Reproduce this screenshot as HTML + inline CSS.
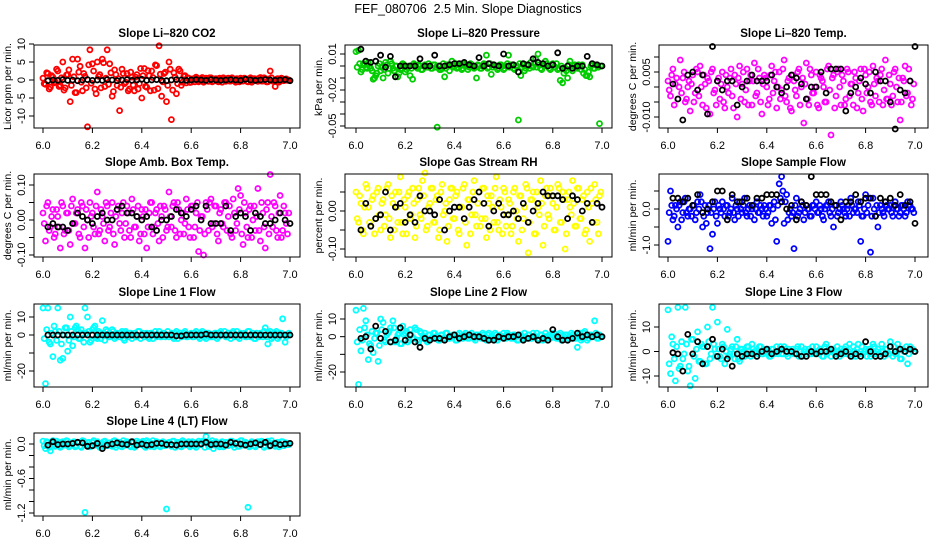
<!DOCTYPE html>
<html><head><meta charset="utf-8">
<style>
html,body{margin:0;padding:0;background:#fff;}
svg{display:block;font-family:"Liberation Sans",Arial,sans-serif;}
</style></head>
<body>
<svg id="chart" width="936" height="540" viewBox="0 0 936 540" xmlns="http://www.w3.org/2000/svg">
<rect x="0" y="0" width="936" height="540" fill="#fff"/>
<text x="468" y="13" text-anchor="middle" font-size="12.5">FEF_080706&#160; 2.5 Min. Slope Diagnostics</text>
</svg>
<script>
// shared x values
const colorX = [6.00,6.01,6.02,6.03,6.04,6.05,6.06,6.07,6.08,6.09,6.10,6.11,6.12,6.13,6.14,6.15,6.16,6.17,6.18,6.19,6.20,6.21,6.22,6.23,6.24,6.25,6.26,6.27,6.28,6.29,6.30,6.31,6.32,6.33,6.34,6.35,6.36,6.37,6.38,6.39,6.40,6.41,6.42,6.43,6.44,6.45,6.46,6.47,6.48,6.49,6.50,6.51,6.52,6.53,6.54,6.55,6.56,6.57,6.58,6.59,6.60,6.61,6.62,6.63,6.64,6.65,6.66,6.67,6.68,6.69,6.70,6.71,6.72,6.73,6.74,6.75,6.76,6.77,6.78,6.79,6.80,6.81,6.82,6.83,6.84,6.85,6.86,6.87,6.88,6.89,6.90,6.91,6.92,6.93,6.94,6.95,6.96,6.97,6.98,6.99];
const colorX2 = [6.005,6.015,6.025,6.035,6.045,6.055,6.065,6.075,6.085,6.095,6.105,6.115,6.125,6.135,6.145,6.155,6.165,6.175,6.185,6.195,6.205,6.215,6.225,6.235,6.245,6.255,6.265,6.275,6.285,6.295,6.305,6.315,6.325,6.335,6.345,6.355,6.365,6.375,6.385,6.395,6.405,6.415,6.425,6.435,6.445,6.455,6.465,6.475,6.485,6.495,6.505,6.515,6.525,6.535,6.545,6.555,6.565,6.575,6.585,6.595,6.605,6.615,6.625,6.635,6.645,6.655,6.665,6.675,6.685,6.695,6.705,6.715,6.725,6.735,6.745,6.755,6.765,6.775,6.785,6.795,6.805,6.815,6.825,6.835,6.845,6.855,6.865,6.875,6.885,6.895,6.905,6.915,6.925,6.935,6.945,6.955,6.965,6.975,6.985,6.995];
const blackX = [6.02,6.04,6.06,6.08,6.10,6.12,6.14,6.16,6.18,6.20,6.22,6.24,6.26,6.28,6.30,6.32,6.34,6.36,6.38,6.40,6.42,6.44,6.46,6.48,6.50,6.52,6.54,6.56,6.58,6.60,6.62,6.64,6.66,6.68,6.70,6.72,6.74,6.76,6.78,6.80,6.82,6.84,6.86,6.88,6.90,6.92,6.94,6.96,6.98,7.00];
const xTicks = [6.0,6.2,6.4,6.6,6.8,7.0];
const xTickLabels = ["6.0","6.2","6.4","6.6","6.8","7.0"];

const co2Y = [0.5,-1.2,1.8,-2.0,0.8,-0.5,2.5,-1.5,5.0,-2.2,1.5,-6.0,5.8,-3.5,5.8,3.8,-3.0,1.0,-13.0,8.4,4.5,-2.5,5.0,1.5,5.8,-1.8,8.4,4.5,-4.5,2.8,-1.5,-8.5,3.0,-1.0,1.8,-2.5,0.8,-3.0,1.5,-1.0,-5.0,3.2,-2.0,1.2,2.5,-2.8,4.0,9.5,-4.5,1.8,-6.0,5.0,-11.0,2.0,-3.8,3.0,-1.5,1.0,-0.8,0.5,-0.6,0.4,0.8,-0.5,0.3,-0.6,0.5,-0.4,0.6,-0.3,0.4,-0.5,0.3,0.6,-0.4,0.5,-0.3,0.4,-0.6,0.2,0.5,-0.3,0.4,-0.5,0.6,-0.2,0.3,-0.4,0.7,-0.3,0.4,-0.5,2.5,-0.3,-1.8,0.4,-0.4,0.3,0.2,-0.1];
const co2Y2 = [-1.0,2.0,-2.5,1.2,-0.8,3.0,-1.8,0.6,-2.8,1.4,2.8,-1.5,0.9,-3.5,2.2,-0.6,1.8,-2.2,4.2,-0.9,2.5,-3.8,1.0,-2.2,4.8,0.5,-1.2,2.0,-3.2,1.5,0.4,-2.0,1.8,-0.6,-3.0,2.2,-1.4,0.8,-2.5,3.2,1.2,-1.8,2.6,-3.0,0.7,4.2,-2.4,1.6,-0.5,2.2,-1.5,3.0,-2.8,0.8,-1.0,2.5,-0.6,1.2,0.6,-0.7,0.3,-0.5,0.5,-0.2,0.7,-0.4,0.2,0.6,-0.5,0.3,-0.3,0.5,-0.6,0.2,0.4,-0.3,0.6,-0.2,0.4,-0.5,0.2,0.5,-0.4,0.3,-0.6,0.4,-0.2,0.5,-0.3,0.6,-0.5,0.3,0.6,-0.4,0.2,-0.6,0.5,-0.2,0.3,0.0];
const co2B = [-0.2,0,-0.1,0.1,-0.1,0,-0.2,0,0.1,-0.1,0,-0.1,0.1,0,-0.2,0,0.1,-0.1,0,0.2,-0.1,0,0.1,-0.1,-0.2,0,0.1,0,-0.1,0,0.1,0,-0.1,0.1,0,-0.1,0,0.1,0,-0.1,0.2,0,-0.1,0,0.1,0,-0.1,0,0.1,-0.2];
const co2Ticks = [10,5,0,-5,-10];
const co2TickLabels = ["10","5","0","-5","-10"];

const presY = [0.012,0.013,-0.005,0.002,-0.001,0.003,-0.002,-0.011,-0.008,0.000,-0.004,-0.010,0.003,-0.006,0.004,-0.002,0.000,-0.009,-0.003,0.002,-0.005,-0.001,-0.008,-0.011,0.001,-0.002,0.000,-0.003,0.001,-0.001,0.000,-0.002,0.001,-0.051,-0.003,-0.002,-0.009,0.001,-0.004,0.004,0.000,-0.002,0.001,-0.003,0.002,0.000,-0.001,0.001,-0.002,-0.010,0.000,-0.002,0.002,0.009,-0.001,-0.007,0.001,0.000,-0.002,0.001,-0.003,0.000,0.009,0.001,-0.002,0.000,-0.045,-0.008,0.001,-0.002,0.000,0.003,-0.001,0.006,0.010,-0.002,0.001,0.004,0.000,-0.003,0.002,-0.001,-0.003,-0.012,-0.014,-0.002,-0.010,0.004,-0.004,0.001,-0.002,0.000,0.001,-0.003,-0.008,-0.009,0.001,-0.002,0.000,-0.048];
const presY2 = [-0.001,0.002,-0.003,0.001,-0.002,0.000,-0.004,-0.010,-0.006,0.002,-0.001,-0.003,0.001,-0.002,0.002,-0.004,0.000,-0.006,-0.002,0.001,-0.003,0.000,-0.002,0.002,-0.001,0.001,-0.003,0.000,-0.001,0.002,-0.002,0.001,-0.001,0.000,-0.003,0.002,-0.002,0.000,0.001,-0.001,0.002,-0.001,0.000,-0.002,0.001,-0.003,0.002,0.000,-0.001,0.001,-0.002,0.000,0.001,-0.002,0.002,-0.001,0.000,-0.003,0.001,0.000,-0.002,0.002,-0.001,0.001,-0.003,0.000,0.002,-0.001,-0.004,0.001,-0.002,0.000,0.002,-0.001,0.001,-0.003,0.000,0.002,-0.002,0.001,-0.001,0.002,-0.002,0.000,-0.006,-0.004,0.001,-0.002,0.000,-0.001,0.001,-0.003,-0.006,-0.008,-0.005,0.000,-0.002,0.001,-0.001,0.000];
const presB = [0.014,0.004,0.003,0.004,0.009,-0.001,0.008,-0.009,0.000,0.000,0.000,0.000,0.006,0.000,0.000,0.009,0.000,0.000,0.001,0.002,0.002,0.003,0.001,0.000,0.007,0.000,0.002,0.001,0.000,0.010,0.000,0.001,-0.005,0.002,0.001,0.006,0.003,0.002,0.000,0.001,0.011,-0.002,0.000,-0.002,0.000,0.000,0.008,0.002,0.001,0.000];
const presTicks = [0.01,0.00,-0.01,-0.02,-0.03,-0.04,-0.05];
const presTickLabels = ["0.01","","","-0.02","","","-0.05"];

const tempY = [0.002,-0.003,0.006,0.001,-0.004,0.009,0.003,-0.005,0.000,-0.008,0.004,-0.002,0.005,0.007,-0.006,0.001,0.003,-0.009,0.006,-0.001,0.002,-0.004,0.005,-0.007,0.000,0.003,-0.003,0.004,-0.010,0.007,0.001,-0.005,0.006,0.002,-0.006,0.008,-0.002,0.003,-0.009,0.004,0.000,-0.004,0.007,0.002,-0.007,0.005,-0.001,0.009,-0.005,0.003,-0.008,0.002,-0.003,0.006,0.000,-0.012,0.008,-0.006,0.004,-0.002,0.005,-0.007,0.003,0.000,-0.005,0.007,-0.016,0.004,-0.003,0.006,-0.006,0.002,-0.004,0.005,0.001,-0.006,0.003,-0.002,0.006,-0.008,0.004,0.000,-0.005,0.007,-0.003,0.002,0.004,-0.006,0.009,-0.004,0.001,-0.003,0.006,-0.005,-0.011,0.003,0.007,-0.002,0.002,-0.004];
const tempY2 = [-0.001,0.004,-0.006,0.003,0.000,-0.002,0.005,-0.004,0.002,0.001,-0.005,0.006,-0.003,0.000,0.004,-0.007,0.002,0.005,-0.002,-0.006,0.003,0.001,-0.005,0.004,-0.002,0.006,-0.007,0.001,0.003,-0.004,0.005,-0.001,-0.006,0.004,0.002,-0.003,0.006,-0.005,0.001,0.003,-0.006,0.004,-0.002,0.005,0.000,-0.004,0.006,-0.003,0.002,-0.007,0.004,-0.001,0.005,-0.006,0.003,0.001,-0.004,0.006,-0.002,0.000,-0.006,0.004,0.002,-0.005,0.006,-0.001,0.003,-0.007,0.005,0.000,0.004,-0.006,0.006,-0.003,0.001,0.005,-0.007,0.002,-0.004,0.006,-0.002,0.005,-0.006,0.001,0.003,-0.005,0.006,-0.001,-0.004,0.004,-0.006,0.005,0.000,0.003,-0.005,0.002,-0.003,0.006,-0.006,0.001];
const tempB = [0.001,-0.004,-0.011,0.004,0.005,-0.001,0.004,-0.009,0.0135,0.002,-0.001,0.002,0.002,-0.006,0.000,0.002,0.004,0.002,0.002,0.002,0.004,0.000,-0.002,0.000,0.004,0.003,0.001,-0.004,0.000,0.000,0.005,-0.002,0.006,0.006,0.006,-0.008,-0.002,0.000,0.003,0.001,-0.002,0.005,0.002,0.002,-0.005,-0.014,-0.001,-0.002,0.002,0.0135];
const tempTicks = [0.010,0.005,0.000,-0.005,-0.010];
const tempTickLabels = ["","0.005","","","-0.010"];

const ambY = [0.02,-0.06,0.05,-0.02,0.03,-0.04,0.01,-0.08,0.04,-0.03,0.02,-0.07,0.06,-0.01,0.03,-0.05,0.04,-0.08,0.00,0.05,0.02,-0.04,0.08,-0.03,0.01,-0.06,0.04,-0.02,0.05,-0.07,0.03,-0.01,0.02,-0.05,0.04,-0.03,0.06,-0.02,0.01,-0.06,0.03,-0.04,-0.08,0.02,0.05,-0.02,0.03,-0.06,0.01,0.04,-0.03,0.08,-0.02,0.05,-0.05,0.03,0.00,-0.04,0.06,-0.02,0.04,-0.05,0.02,-0.09,0.01,-0.10,0.05,-0.03,0.06,-0.01,0.04,-0.06,0.03,-0.02,0.05,0.01,-0.04,0.06,-0.03,0.09,0.07,-0.07,0.02,-0.05,0.04,0.00,-0.03,0.09,-0.06,0.02,-0.08,0.05,0.13,-0.02,0.04,-0.05,0.07,-0.03,0.02,-0.04];
const ambY2 = [-0.01,0.04,-0.03,0.01,-0.05,0.03,-0.02,0.05,-0.04,0.02,-0.03,0.04,-0.01,0.02,-0.04,0.05,-0.02,0.03,-0.05,0.01,-0.02,0.04,-0.04,0.03,-0.01,0.05,-0.03,0.02,-0.04,0.01,0.04,-0.03,0.05,-0.01,0.02,-0.05,0.03,-0.02,0.04,-0.04,0.01,0.03,-0.02,0.05,-0.04,0.02,-0.01,0.04,-0.05,0.03,-0.02,0.01,0.04,-0.03,0.05,-0.04,0.02,-0.01,0.03,-0.05,0.04,-0.02,0.05,-0.03,0.01,-0.04,0.03,0.05,-0.02,0.04,-0.04,0.02,-0.01,0.05,-0.03,0.04,-0.05,0.02,-0.01,0.03,-0.04,0.05,-0.02,0.03,-0.05,0.04,0.01,-0.03,0.05,-0.02,0.03,-0.04,0.01,0.05,-0.03,0.02,-0.05,0.04,-0.01,0.02];
const ambB = [-0.02,-0.01,-0.02,-0.02,-0.03,-0.01,0.02,0.01,0.00,-0.01,0.01,0.02,0.00,0.00,0.03,0.04,0.02,0.02,0.01,0.00,0.01,-0.02,-0.03,0.00,0.00,0.01,0.03,0.02,0.01,0.03,0.04,0.00,0.04,-0.01,-0.01,-0.01,0.04,-0.03,0.01,0.02,0.01,-0.03,0.02,0.01,-0.01,-0.01,0.00,0.02,0.00,-0.01];
const ambTicks = [0.10,0.05,0.00,-0.05,-0.10];
const ambTickLabels = ["0.10","","0.00","","-0.10"];

const rhY = [0.05,-0.03,0.02,-0.06,0.07,0.01,-0.04,0.04,-0.02,0.06,-0.05,0.03,-0.01,0.07,-0.07,0.02,0.05,-0.03,0.09,-0.06,0.01,0.04,-0.02,0.06,-0.07,0.03,-0.01,0.08,0.10,-0.04,0.02,0.06,-0.03,0.04,-0.05,0.07,0.00,-0.08,0.03,0.06,-0.02,0.05,-0.06,0.01,0.07,-0.09,0.03,-0.01,0.08,-0.04,0.05,-0.02,0.06,-0.07,0.02,0.04,-0.03,0.09,-0.05,0.01,0.06,-0.04,0.03,-0.06,0.05,0.00,-0.08,0.04,-0.02,0.07,-0.11,0.03,0.05,-0.06,0.01,0.08,-0.09,0.04,-0.01,0.06,0.02,-0.05,0.07,-0.03,0.05,-0.10,0.03,0.01,0.08,-0.04,0.06,-0.02,0.03,-0.06,0.05,-0.08,0.02,0.07,-0.03,0.04];
const rhY2 = [-0.02,0.04,-0.05,0.01,0.06,-0.03,0.03,-0.06,0.05,-0.01,0.02,-0.04,0.06,-0.02,0.04,-0.05,0.01,0.05,-0.03,0.03,-0.06,0.05,-0.01,0.02,-0.04,0.06,-0.02,0.04,-0.05,0.01,0.06,-0.03,0.03,-0.07,0.05,-0.01,0.02,-0.04,0.06,-0.02,0.04,-0.05,0.01,0.06,-0.03,0.03,-0.06,0.05,-0.01,0.02,-0.04,0.06,-0.02,0.04,-0.05,0.01,0.06,-0.03,0.03,-0.06,0.05,-0.01,0.02,-0.04,0.06,-0.02,0.04,-0.05,0.01,0.06,-0.03,0.03,-0.06,0.05,-0.01,0.02,-0.04,0.06,-0.02,0.04,-0.05,0.01,0.06,-0.03,0.03,-0.06,0.05,-0.01,0.02,-0.04,0.06,-0.02,0.04,-0.05,0.01,0.06,-0.03,0.03,-0.06,0.05];
const rhB = [-0.05,0.02,-0.04,-0.02,-0.01,0.05,-0.05,0.01,0.02,-0.03,-0.01,-0.03,0.04,0.00,0.00,-0.01,0.03,-0.05,0.00,0.01,0.01,-0.02,0.01,0.03,0.05,0.02,-0.04,0.00,0.02,-0.01,-0.01,0.00,-0.02,0.02,-0.03,0.00,0.02,0.05,0.04,0.04,0.04,0.03,-0.02,0.04,0.03,0.00,0.02,-0.03,0.02,0.01];
const rhTicks = [0.05,0.00,-0.05,-0.10];
const rhTickLabels = ["","0.00","","-0.10"];

const sampY = [-0.9,0.5,-0.3,0.1,-0.5,0.2,-0.1,0.3,-0.2,0.0,0.1,-0.3,0.2,0.4,-0.5,0.1,-0.1,-1.1,-0.7,0.2,-0.4,0.0,0.2,-0.2,0.1,-0.1,0.3,-0.3,0.0,0.2,-0.1,0.3,-0.2,0.1,0.0,-0.3,0.2,-0.1,0.0,0.1,-0.2,0.1,-0.4,0.2,-0.9,0.7,0.9,-0.4,0.4,-0.1,-0.2,-1.1,0.3,-0.1,0.2,-0.3,0.1,0.0,-0.2,0.1,0.2,-0.1,0.0,-0.3,0.1,0.2,-0.2,-0.5,0.1,-0.1,0.2,0.0,-0.2,0.1,0.3,-0.1,0.0,0.2,-0.9,-0.2,0.4,0.1,-1.2,0.3,-0.2,-0.5,0.1,-0.1,0.2,0.0,0.1,-0.2,0.2,0.0,-0.1,0.1,-0.2,0.2,0.1,0.0];
const sampY2 = [-0.1,0.1,-0.2,0.0,0.1,-0.3,0.2,-0.1,0.0,-0.2,0.1,-0.1,0.0,0.2,-0.2,-0.4,0.1,-0.1,0.0,-0.2,0.1,-0.1,0.0,0.1,-0.2,0.0,-0.1,0.1,-0.2,0.0,0.1,-0.1,0.0,-0.2,0.1,0.0,-0.1,0.1,-0.2,0.0,-0.1,0.1,0.0,-0.3,0.1,0.3,0.5,0.2,-0.3,0.0,-0.1,0.1,-0.2,0.0,0.1,-0.1,0.0,-0.2,0.1,0.0,-0.1,0.1,-0.2,0.0,0.1,-0.1,0.0,0.1,-0.2,0.0,0.1,-0.1,0.0,-0.2,0.1,0.0,-0.1,0.1,-0.2,0.0,-0.1,0.3,-0.2,0.0,0.1,-0.1,0.0,-0.2,0.1,0.0,-0.1,0.1,0.0,-0.2,0.1,0.0,-0.1,0.1,0.0,-0.1];
const sampB = [0.3,0.3,0.2,0.3,0.1,0.4,-0.1,0.0,0.2,0.5,0.5,-0.3,0.4,0.2,0.2,0.3,0.1,0.3,0.3,0.4,0.4,0.4,0.2,0.0,0.1,-0.3,0.2,0.1,0.9,0.4,0.4,0.4,0.2,0.1,-0.3,0.2,0.2,0.4,0.2,0.3,0.3,-0.2,0.3,0.2,0.3,0.1,0.4,0.1,0.2,-0.4];
const sampTicks = [0.5,0.0,-0.5,-1.0];
const sampTickLabels = ["","0.0","","-1.0"];

const line1Y = [15,-27,15,-5,-12,2,15,-14,-13,4,-9,10,-6,4,3,-2,1,15,10,-4,3,5,-2,1,8,-3,2,-1,3,-2,1,-1,2,-3,1,0,-2,1,-1,2,0,-1,1,-2,1,0,-1,2,-1,1,0,-1,1,-2,2,0,-1,1,-1,0,1,-1,2,-1,1,0,-2,1,-1,0,1,-1,2,0,-1,1,-2,2,0,-1,1,0,-1,2,-1,1,-2,0,1,-1,4,-5,2,-1,1,-2,1,9,-4,0];
const line1Y2 = [-2,3,-4,1,5,-3,2,-5,0,4,-3,2,-1,5,-2,3,-4,1,2,-3,4,-1,2,-2,1,3,-1,0,2,-1,0,1,-2,2,-1,1,0,-1,2,-2,1,0,-1,1,-2,2,0,-1,1,-1,2,0,-1,1,-2,1,0,2,-1,0,-1,1,0,-2,2,-1,1,0,-1,1,-2,1,0,2,-1,0,1,-1,2,-2,0,1,-1,2,0,-2,1,-1,0,2,-1,1,-2,0,2,-1,1,0,-1,1];
const line1B = [0,0,0,0,0,0,0,0,0,0,0,0,0,0,0,0,0,0,0,0,0,0,0,0,0,0,-0.5,-0.5,0,0,0,0,0.5,0,0,0,0,0,0,0,0,0,0,0,0,0,0,0,0,0];
const line1Ticks = [10,0,-10,-20];
const line1TickLabels = ["10","0","","-20"];

const line2Y = [15,-27,-8,16,9,-13,-5,-9,2,-14,10,8,-3,2,5,9,-3,1,-4,6,2,-3,4,-1,5,-2,3,-1,2,-3,1,-1,2,0,-2,1,-1,2,-1,0,1,-2,2,-1,1,0,-1,2,-1,1,0,-1,1,-2,2,0,-1,1,-1,0,2,-1,1,-1,1,0,-2,1,-1,0,1,-1,2,0,-1,1,-2,2,0,-1,1,0,-1,2,-1,1,-2,0,1,-1,-6,2,-1,3,-2,1,0,9,-1,1];
const line2Y2 = [-3,4,-2,5,1,-4,3,-1,2,-5,4,-2,1,3,-3,5,-1,2,-4,1,3,-2,1,-1,4,-3,2,0,-2,1,-1,2,0,-2,1,-1,2,-1,0,1,-2,1,0,-1,2,-1,1,0,-2,1,0,2,-1,1,-1,0,2,-2,1,0,-1,2,0,-1,1,-2,1,0,2,-1,1,-1,0,2,-2,1,0,-1,1,0,2,-1,1,-2,0,1,-1,2,0,-1,1,-2,2,0,-1,1,0,2,-1,0];
const line2B = [-1,0,-7,6,-1,3,-3,-2,5,-2,1,-3,-6,-1,-2,-1,-1,-2,0,1,-1,0,1,0,0,-1,-2,-2,0,-1,0,0,1,-2,-1,0,-2,-1,-2,4,0,-2,-2,-1,2,0,1,0,1,0];
const line2Ticks = [10,0,-10,-20];
const line2TickLabels = ["10","0","","-20"];

const line3Y = [17,-9,3,-12,18,-6,-3,18,-8,-14,5,-11,8,-4,2,-5,10,-3,18,1,12,-2,3,-5,9,-1,2,-3,5,-4,1,-2,2,-1,3,0,-2,2,-1,1,0,-2,1,-1,2,0,-1,2,-1,1,0,-1,1,-2,2,0,-1,1,-1,0,2,-1,1,-2,3,0,-2,1,-1,0,1,-1,2,0,-1,2,-2,3,0,-1,1,0,-2,3,-1,1,-2,0,1,-1,4,-2,-1,3,-3,1,0,-5,2,1];
const line3Y2 = [-5,6,-3,2,-7,4,-1,3,-6,5,-2,1,-4,3,2,-5,4,-1,3,-2,1,-3,2,0,-2,1,-1,2,-3,1,0,-1,2,-2,1,0,-1,2,-1,0,1,-2,1,0,-1,2,-1,1,-2,0,1,-1,2,0,-2,1,0,-1,2,-1,0,1,-2,2,-1,0,1,-1,2,-2,0,1,-1,3,-2,0,1,-1,2,0,-2,1,-1,2,0,-1,3,-2,1,-1,0,2,-1,1,-3,0,2,-1,1,0];
const line3B = [-0.5,-1,-8,7,-1,4,-5,2,5,-2,1,-3,-6,-1,-2,-1,-1,-2,0,1,-1,0,1,0,0,-1,-2,-2,0,-1,0,0,1,-2,-1,0,-2,-1,-2,4,0,-2,-2,-1,2,0,1,0,1,0];
const line3Ticks = [10,0,-10];
const line3TickLabels = ["10","0","-10"];

const line4Y = [0.05,-0.08,0.03,-0.12,0.06,-0.04,0.02,-0.06,0.04,-0.02,0.05,-0.03,0.01,-0.05,0.03,-0.04,0.06,-1.19,0.02,-0.05,0.03,-0.02,0.04,-0.06,0.01,0.05,-0.03,0.02,-0.04,0.06,-0.02,0.03,-0.05,0.01,0.04,-0.03,0.02,-0.06,0.05,-0.01,0.03,-0.04,0.06,-0.02,0.01,-0.05,0.04,-0.03,0.02,-0.02,-1.13,0.03,-0.04,0.05,-0.02,0.01,-0.05,0.03,-0.01,0.04,-0.03,0.02,-0.06,0.05,-0.01,0.03,0.13,-0.04,0.02,-0.08,0.04,-0.02,0.01,-0.05,0.03,-0.03,0.05,-0.01,0.02,-0.04,0.06,-0.02,0.03,-1.10,-0.04,0.02,-0.05,0.04,-0.01,0.03,-0.03,0.05,-0.02,0.01,-0.04,0.03,-0.02,0.04,0.00,-0.01];
const line4Y2 = [-0.03,0.04,-0.06,0.02,-0.01,0.05,-0.04,0.03,-0.02,0.06,-0.05,0.01,0.04,-0.03,0.02,-0.06,0.05,-0.01,0.03,-0.04,0.06,-0.02,0.01,-0.05,0.04,-0.03,0.02,-0.01,0.05,-0.06,0.03,-0.04,0.06,-0.02,0.01,-0.05,0.04,-0.03,0.02,-0.01,0.05,-0.06,0.03,-0.04,0.06,-0.02,0.01,-0.05,0.04,-0.03,0.02,-0.01,0.05,-0.06,0.03,-0.04,0.06,-0.02,0.01,-0.05,0.04,-0.03,0.02,-0.01,0.05,-0.06,0.03,-0.04,0.06,-0.02,0.01,-0.05,0.04,-0.03,0.02,-0.01,0.05,-0.06,0.03,-0.04,0.06,-0.02,0.01,-0.05,0.04,-0.03,0.02,-0.01,0.05,-0.06,0.03,-0.04,0.06,-0.02,0.01,-0.05,0.04,-0.03,0.02,-0.01];
const line4B = [-0.02,0.04,-0.01,0.00,0.00,0.01,0.03,0.02,-0.04,-0.03,0.01,-0.08,-0.02,0.00,0.02,0.00,-0.01,0.04,-0.02,0.00,-0.02,-0.01,0.01,0.01,-0.01,-0.01,-0.02,0.00,0.00,0.00,0.00,0.00,0.03,-0.01,0.00,0.00,-0.02,0.03,0.01,0.00,-0.02,0.00,0.02,-0.01,0.03,-0.03,0.01,-0.01,0.00,0.01];
const line4Ticks = [0.0,-0.2,-0.4,-0.6,-0.8,-1.0,-1.2];
const line4TickLabels = ["0.0","","","-0.6","","","-1.2"];

const svg = document.getElementById('chart');
const NS = 'http://www.w3.org/2000/svg';
function mk(tag, attrs, parent){
  const e = document.createElementNS(NS, tag);
  for (const k in attrs) e.setAttribute(k, attrs[k]);
  (parent||svg).appendChild(e);
  return e;
}
// layout (pixel geometry only)
const cols = [{l:34,r:300,x0:43,x1:290},{l:345,r:612,x0:356,x1:602},{l:659,r:928,x0:668,x1:915}];
const rows = [{t:45,b:128},{t:174,b:257},{t:304,b:387},{t:433,b:516}];
const panels = [
 {key:'co2',title:'Slope Li–820 CO2',ylab:'Licor ppm per min.',c:0,r:0,color:'#ff0000',Y:co2Y,Y2:co2Y2,B:co2B,ticks:co2Ticks,labels:co2TickLabels,v1:10,p1:44,v2:-10,p2:116},
 {key:'pressure',title:'Slope Li–820 Pressure',ylab:'kPa per min.',c:1,r:0,color:'#00cd00',Y:presY,Y2:presY2,B:presB,ticks:presTicks,labels:presTickLabels,v1:0.01,p1:54,v2:-0.05,p2:126},
 {key:'li820-temp',title:'Slope Li–820 Temp.',ylab:'degrees C per min.',c:2,r:0,color:'#ff00ff',Y:tempY,Y2:tempY2,B:tempB,ticks:tempTicks,labels:tempTickLabels,v1:0.005,p1:72,v2:-0.010,p2:117},
 {key:'amb-box-temp',title:'Slope Amb. Box Temp.',ylab:'degrees C per min.',c:0,r:1,color:'#ff00ff',Y:ambY,Y2:ambY2,B:ambB,ticks:ambTicks,labels:ambTickLabels,v1:0.10,p1:185,v2:-0.10,p2:255},
 {key:'gas-stream-rh',title:'Slope Gas Stream RH',ylab:'percent per min.',c:1,r:1,color:'#ffff00',Y:rhY,Y2:rhY2,B:rhB,ticks:rhTicks,labels:rhTickLabels,v1:0.00,p1:211,v2:-0.10,p2:249},
 {key:'sample-flow',title:'Slope Sample Flow',ylab:'ml/min per min.',c:2,r:1,color:'#0000ff',Y:sampY,Y2:sampY2,B:sampB,ticks:sampTicks,labels:sampTickLabels,v1:0.0,p1:209,v2:-1.0,p2:245},
 {key:'line1-flow',title:'Slope Line 1 Flow',ylab:'ml/min per min.',c:0,r:2,color:'#00ffff',Y:line1Y,Y2:line1Y2,B:line1B,ticks:line1Ticks,labels:line1TickLabels,v1:10,p1:317,v2:-20,p2:371},
 {key:'line2-flow',title:'Slope Line 2 Flow',ylab:'ml/min per min.',c:1,r:2,color:'#00ffff',Y:line2Y,Y2:line2Y2,B:line2B,ticks:line2Ticks,labels:line2TickLabels,v1:10,p1:319,v2:-20,p2:372},
 {key:'line3-flow',title:'Slope Line 3 Flow',ylab:'ml/min per min.',c:2,r:2,color:'#00ffff',Y:line3Y,Y2:line3Y2,B:line3B,ticks:line3Ticks,labels:line3TickLabels,v1:10,p1:327,v2:-10,p2:376},
 {key:'line4-flow',title:'Slope Line 4 (LT) Flow',ylab:'ml/min per min.',c:0,r:3,color:'#00ffff',Y:line4Y,Y2:line4Y2,B:line4B,ticks:line4Ticks,labels:line4TickLabels,v1:0.0,p1:444,v2:-1.2,p2:513}
];

panels.forEach(p => {
  const C = cols[p.c], R = rows[p.r];
  const xs = v => C.x0 + (v - 6.0) / 1.0 * (C.x1 - C.x0);
  const ys = v => p.p1 + (v - p.v1) / (p.v2 - p.v1) * (p.p2 - p.p1);
  const g = mk('g', {});
  
  

  const t = mk('text', {x:(C.l+C.r)/2, y:R.t-8, 'text-anchor':'middle', 'font-size':'11.5', 'font-weight':'bold'}, g);
  t.textContent = p.title;
  
  

  const pts = mk('g', {fill:'none', 'stroke-width':'1.8'}, g);
  
  
  p.Y.forEach((v, i) => {
    const c = mk('circle', {cx:xs(colorX[i]).toFixed(1), cy:ys(v).toFixed(1), r:'2.5', stroke:p.color}, pts);
    
    
  });
  p.Y2.forEach((v, i) => {
    const c = mk('circle', {cx:xs(colorX2[i]).toFixed(1), cy:ys(v).toFixed(1), r:'2.5', stroke:p.color}, pts);
    
    
  });
  const bpts = mk('g', {fill:'none', 'stroke-width':'1.8'}, g);
  
  
  p.B.forEach((v, i) => {
    const c = mk('circle', {cx:xs(blackX[i]).toFixed(1), cy:ys(v).toFixed(1), r:'2.5', stroke:'#000'}, bpts);
    
    
  });

  const box = mk('rect', {x:C.l, y:R.t, width:C.r-C.l, height:R.b-R.t, fill:'none', stroke:'#000', 'stroke-width':'1'}, g);
  
  

  const xa = mk('g', {}, g);
  
  
  xTicks.forEach((v, i) => {
    const x = xs(v);
    mk('line', {x1:x, x2:x, y1:R.b, y2:R.b+5, stroke:'#000'}, xa);
    const tl = mk('text', {x:x, y:R.b+21, 'text-anchor':'middle', 'font-size':'11'}, xa);
    tl.textContent = xTickLabels[i];
    
    
  });

  const ya = mk('g', {}, g);
  
  
  p.ticks.forEach((v, i) => {
    const y = ys(v);
    mk('line', {x1:C.l-5, x2:C.l, y1:y, y2:y, stroke:'#000'}, ya);
    if (p.labels[i]) {
      const tl = mk('text', {x:0, y:0, 'text-anchor':'middle', 'font-size':'11', transform:'translate(' + (C.l-9) + ',' + y + ') rotate(-90)'}, ya);
      tl.textContent = p.labels[i];
      
      
    }
  });
  const yt = mk('text', {x:0, y:0, 'text-anchor':'middle', 'font-size':'10.5', transform:'translate(' + (C.l-23) + ',' + ((R.t+R.b)/2) + ') rotate(-90)'}, g);
  yt.textContent = p.ylab;
  
  
});
</script>
</body></html>
